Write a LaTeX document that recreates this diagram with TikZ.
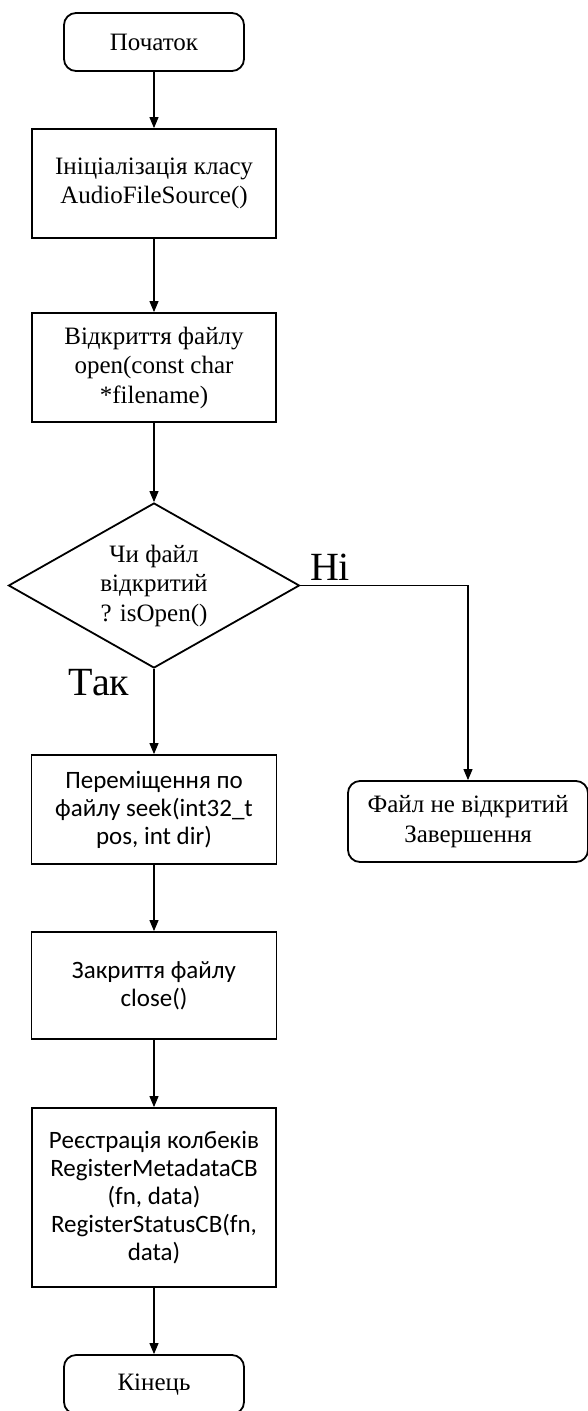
\documentclass[tikz,border=0pt]{standalone}
\usepackage{fontspec}
\setmainfont{Liberation Serif}
\newfontfamily\calibri{Carlito}
\usetikzlibrary{arrows.meta,shapes.geometric}

\begin{document}
\begin{tikzpicture}[x=1pt,y=-1pt,
		serifbox/.style={draw,line width=1.8pt,align=center,inner sep=0pt,font=\fontsize{25}{29.5}\selectfont},
		sansbox/.style={draw,line width=1.8pt,align=center,inner sep=0pt,font=\calibri\fontsize{25}{28}\selectfont},
		termbox/.style={serifbox,rounded corners=12pt},
		answer/.style={font=\fontsize{40}{40}\selectfont,inner sep=0pt},
		flow/.style={line width=1.1pt,-{Triangle[length=11pt,width=9pt]}}]
	\useasboundingbox (0,0) rectangle (588,1411);

	\node [termbox, minimum width=180pt, minimum height=58pt] (start) at (154,42) {Початок};
	\node [serifbox, minimum width=244pt, minimum height=109pt] (init) at (154,183.5) {Ініціалізація класу\\AudioFileSource()};
	\node [serifbox, minimum width=244pt, minimum height=109pt] (open) at (154,367.5) {Відкриття файлу\\open(const char\\*filename)};
	\node [serifbox, diamond, aspect=1.76, minimum width=291pt, minimum height=165pt] (check) at (154,585.5) {Чи файл\\відкритий\\? isOpen()};
	\node [answer] (no) at (330,567) {Ні};
	\node [answer] (yes) at (99,683) {Так};
	\node [termbox, minimum width=240pt, minimum height=81pt] (fail) at (468,821.5) {Файл не відкритий\\Завершення};
	\node [sansbox, minimum width=245pt, minimum height=109pt] (seek) at (154,809.5) {Переміщення по\\файлу seek(int32\_t\\pos, int dir)};
	\node [sansbox, minimum width=245pt, minimum height=107pt] (close) at (154,985.5) {Закриття файлу\\close()};
	\node [sansbox, minimum width=244pt, minimum height=179pt] (reg) at (154,1197.5) {Реєстрація колбеків\\RegisterMetadataCB\\(fn, data)\\RegisterStatusCB(fn,\\data)};
	\node [termbox, minimum width=180pt, minimum height=59pt] (finish) at (154,1384.5) {Кінець};

	\draw [flow] (start) -- (init);
	\draw [flow] (init) -- (open);
	\draw [flow] (open) -- (check);
	\draw [flow] (check) -- (seek);
	\draw [flow] (check.east) -| (fail.north);
	\draw [flow] (seek) -- (close);
	\draw [flow] (close) -- (reg);
	\draw [flow] (reg) -- (finish);
\end{tikzpicture}
\end{document}
